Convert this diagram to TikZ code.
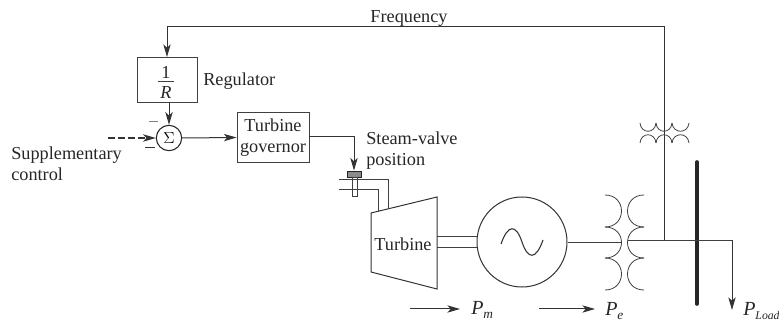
\documentclass[tikz,border=0pt]{standalone}
\usepackage{fontspec}
\setmainfont{Liberation Serif}
\usetikzlibrary{arrows.meta}
\tikzset{
  x=0.75pt,y=-0.75pt,
  wire/.style={draw=black!80,line width=0.75pt},
  thin wire/.style={draw=black!75,line width=0.6pt},
  arr/.style={wire,-{Stealth[length=9.5pt,width=5.5pt,inset=2.5pt]}},
  blockbox/.style={draw=black!75,line width=0.7pt,inner sep=0pt,align=center},
  lbl/.style={font=\fontsize{13.7}{15.7}\selectfont,text=black!85,inner sep=0pt},
  pow/.style={font=\fontsize{15}{17}\selectfont,text=black!85,inner sep=0pt},
}
\newcommand{\powersub}[2]{\textit{P}\raisebox{-3pt}{\fontsize{#1}{10}\selectfont\textit{#2}}}
\begin{document}
\begin{tikzpicture}
\useasboundingbox (0,0) rectangle (779,324);
% blocks
\node[blockbox,minimum width=45pt,minimum height=33.75pt] (reg) at (167,79.5) {};
\node[lbl] (regone) at (166,72) {1};
\node[lbl] (regR) at (166,93) {\textit{R}};
\draw[thin wire] (158,81) -- (174,81);
\node[blockbox,minimum width=54pt,minimum height=38pt,lbl] (gov) at (273,137.5) {Turbine\\governor};
\node[circle,draw=black!85,line width=0.8pt,minimum size=19pt,inner sep=0pt] (sum) at (169,138) {\fontsize{12}{12}\selectfont$\Sigma$};
% frequency feedback
\coordinate (fcorner) at (664,27);
\coordinate (lcorner) at (167,27);
\coordinate (busjoin) at (664,240);
\coordinate (regtop) at (167,57);
\draw[arr] (busjoin) -- (fcorner) -- (lcorner) -- (regtop);
\node[lbl] (freq) at (409,18) {Frequency};
\node[lbl,anchor=west] (reglbl) at (203,81.5) {Regulator};
\draw[arr] (reg.south -| sum) -- (sum.north);
\coordinate (dash) at (108,138);
\draw[arr,line width=1pt,dash pattern=on 5pt off 2.5pt] (dash) -- (sum.west);
\draw[arr] (sum.east) -- (gov.west);
\draw[thin wire,black!50] (149,121) -- (158,121);
\draw[wire] (145,148) -- (155,148);
\node[lbl,anchor=west,align=left] (supp) at (11,164) {Supplementary\\control};
\node[lbl,anchor=west,align=left] (steam) at (366,151) {Steam-valve\\position};
% valve
\coordinate (vtop) at (354,137);
\node[draw=black!85,fill=black!45,line width=0.6pt,minimum width=10.5pt,minimum height=4.5pt,inner sep=0pt] (valve) at (354,174) {};
\draw[thin wire] (352,177) rectangle (357,196);
\draw[arr] (gov.east |- vtop) -- (vtop) -- (valve.north);
% turbine
\draw[wire] (371,213) -- (437,197) -- (437,289) -- (371,272) -- cycle;
\node[lbl] (turb) at (403,244) {Turbine};
\draw[thin wire] (339,179) -- (388,179) -- (388,209);
\draw[thin wire] (339,189) -- (378,189) -- (378,211);
% generator
\node[circle,draw=black!80,line width=0.75pt,minimum size=67.5pt,inner sep=0pt] (gen) at (522,242) {};
\draw[thin wire] (437,236) -- (477,236);
\draw[thin wire] (437,247) -- (477,247);
\draw[wire,line width=0.8pt] (501,244) .. controls (508,224) and (516,224) .. (522,242) .. controls (528,260) and (536,260) .. (543,240);
% main transformer
\draw[thin wire] (gen.east) -- (622,242);
\foreach \a/\b in {195/227,227/258,258/290}{
  \draw[thin wire] (605,\a) .. controls (627,\a) and (627,\b) .. (605,\b);
  \draw[thin wire] (644,\a) .. controls (622,\a) and (622,\b) .. (644,\b);
}
% small transformer
\foreach \a/\b in {640/656,656/672,672/689}{
  \draw[thin wire] (\a,123) .. controls (\a+1,134) and (\b-1,134) .. (\b,123);
  \draw[thin wire] (\a,143) .. controls (\a+1,132) and (\b-1,132) .. (\b,143);
}
% bus and load
\coordinate (bustop) at (697,162);
\coordinate (busbot) at (697,304);
\draw[black!85,line width=2.7pt,line cap=round] (bustop) -- (busbot);
\coordinate (loadc) at (732,240);
\coordinate (loadend) at (732,310);
\coordinate (txr) at (628,240);
\draw[thin wire] (txr) -- (loadc);
\draw[arr] (loadc) -- (loadend);
% power arrows
\coordinate (pma) at (410,309);
\coordinate (pmb) at (460,309);
\coordinate (pea) at (539,309);
\coordinate (peb) at (595,309);
\draw[arr] (pma) -- (pmb);
\draw[arr] (pea) -- (peb);
\node[pow,anchor=west] (pm) at (471,310) {\powersub{10}{m}};
\node[pow,anchor=west] (pe) at (605,311) {\powersub{10}{e}};
\node[pow,anchor=west] (pl) at (743,311) {\powersub{8.8}{Load}};
\end{tikzpicture}
\end{document}
